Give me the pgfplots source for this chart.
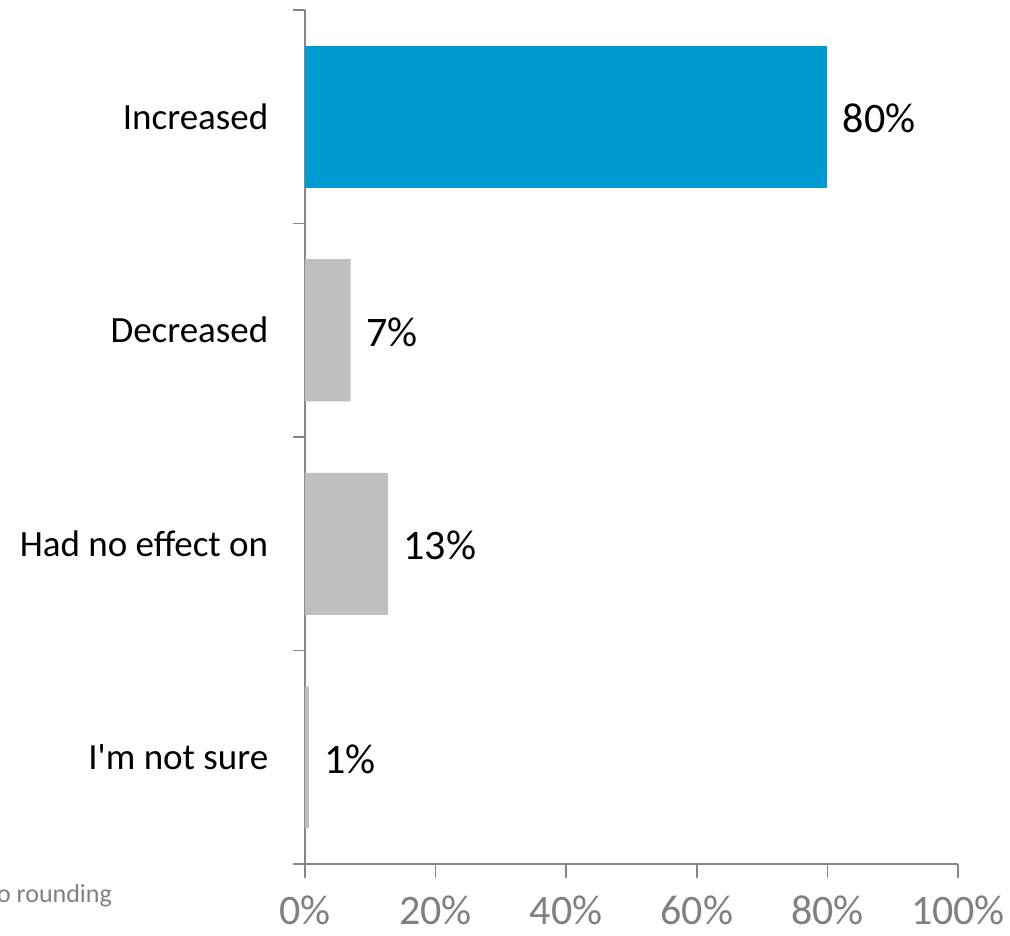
\documentclass[border=0pt]{standalone}
\usepackage{pgfplots}
\pgfplotsset{compat=1.18}
\usepackage{fontspec}
\setmainfont{Carlito}
\definecolor{barblue}{RGB}{0,153,208}
\definecolor{bargray}{RGB}{191,191,191}
\definecolor{axgray}{RGB}{134,134,134}
\definecolor{lblgray}{RGB}{128,128,128}
\begin{document}
\begin{tikzpicture}[x=1pt,y=1pt]
\useasboundingbox (0,0) rectangle (1010,936);
\begin{axis}[
  at={(305pt,72pt)}, anchor=south west,
  scale only axis, width=653pt, height=854pt,
  xmin=0, xmax=100, ymin=-0.5, ymax=3.5, y dir=reverse,
  axis x line=bottom, axis y line=left,
  axis line style={-, color=axgray, line width=1.5pt},
  tick align=outside,
  xtick={0,20,40,60,80,100},
  xticklabels={0\%,20\%,40\%,60\%,80\%,100\%},
  x tick style={color=axgray, line width=1.5pt},
  major x tick style={/pgfplots/major tick length=14pt},
  xticklabel style={text=lblgray, font=\fontsize{42}{42}\selectfont, anchor=base, yshift=-56pt},
  ytick={0,1,2,3},
  yticklabels={Increased,Decreased,Had no effect on,I\textquotesingle m not sure},
  major y tick style={draw=none},
  minor ytick={-0.5,0.5,1.5,2.5,3.5},
  minor y tick style={color=axgray, line width=1.5pt},
  minor tick length=12pt,
  yticklabel style={font=\fontsize{37}{37}\selectfont, text=black, anchor=east, xshift=-29pt},
  xbar, bar width=142pt, bar shift=0pt,
  nodes near coords, point meta=explicit symbolic,
  every node near coord/.append style={font=\fontsize{42}{42}\selectfont, text=black, anchor=west, xshift=12pt, yshift=-2pt},
  clip=false,
]
\addplot[fill=barblue, draw=none] coordinates {(80,0) [80\%]};
\addplot[fill=bargray, draw=none] coordinates {(7,1) [7\%] (12.7,2) [13\%] (0.6,3) [1\%]};
\end{axis}
\node[anchor=base east, text=lblgray, font=\fontsize{26}{26}\selectfont, inner sep=0pt] at (112,33) {Note: Percentages may not total 100\% due to rounding};
\end{tikzpicture}
\end{document}
